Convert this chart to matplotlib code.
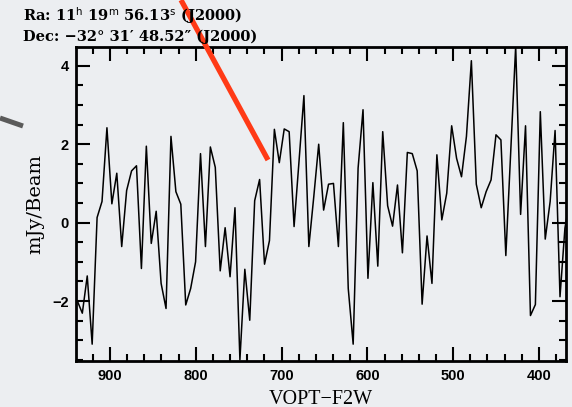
import numpy as np
import matplotlib.pyplot as plt
from matplotlib.lines import Line2D
from matplotlib.ticker import MultipleLocator

# spectrum channels (VOPT-F2W, km/s), regular channel grid
V_START = 938.0
V_STEP = 5.74

# flux per channel in mJy/Beam (high velocity first)
flux = [
    -2.00, -2.31, -1.36, -3.10, 0.13, 0.54, 2.42, 0.48, 1.26, -0.61,
    0.82, 1.32, 1.45, -1.17, 1.95, -0.53, 0.29, -1.55, -2.19, 2.20,
    0.79, 0.47, -2.10, -1.68, -1.00, 1.76, -0.61, 1.93, 1.41, -1.23,
    -0.13, -1.38, 0.38, -3.50, -1.19, -2.49, 0.56, 1.10, -1.06, -0.46,
    2.38, 1.53, 2.39, 2.32, -0.10, 1.56, 3.24, -0.61, 0.66, 2.00,
    0.32, 0.98, 1.00, -0.61, 2.55, -1.68, -3.10, 1.39, 2.88,
    -1.42, 1.02, -1.11, 2.32, 0.43, -0.09, 0.96, -0.77, 1.79, 1.76,
    1.32, -2.08, -0.34, -1.55, 1.73, 0.07, 0.75, 2.47, 1.64, 1.17,
    2.20, 4.13, 0.98, 0.38, 0.79, 1.09, 2.24, 2.11, -0.84, 1.83,
    4.50, 0.21, 2.47, -2.37, -2.09, 2.83, -0.42, 0.54, 2.35, -1.89,
    -0.14, 0.60,
]
velocity = V_START - V_STEP * np.arange(len(flux))

ra_text = r"Ra: 11$^{\mathrm{h}}$ 19$^{\mathrm{m}}$ 56.13$^{\mathrm{s}}$ (J2000)"
dec_text = "Dec: \u221232\u00b0 31\u2032 48.52\u2033 (J2000)"

BG = '#eceef1'
plt.rcParams['mathtext.default'] = 'regular'

fig = plt.figure(figsize=(5.72, 4.07), dpi=100, facecolor=BG)
ax = fig.add_axes([0.1329, 0.113, 0.8566, 0.7715], facecolor=BG)

ax.plot(velocity, flux, color='black', lw=1.1)

ax.set_xlim(939.6, 368.5)
ax.set_ylim(-3.53, 4.48)

ax.xaxis.set_major_locator(MultipleLocator(100))
ax.xaxis.set_minor_locator(MultipleLocator(20))
ax.yaxis.set_major_locator(MultipleLocator(2))
ax.yaxis.set_minor_locator(MultipleLocator(0.5))
ax.tick_params(which='both', direction='in', top=True, right=True, width=1.5, color='black')
ax.tick_params(which='major', length=10)
ax.tick_params(which='minor', length=5)
ax.tick_params(axis='x', pad=6)
ax.tick_params(axis='y', pad=5)
for lab in ax.get_xticklabels() + ax.get_yticklabels():
    lab.set_fontfamily('Liberation Sans')
    lab.set_fontweight('bold')
    lab.set_fontsize(10.5)
for sp in ax.spines.values():
    sp.set_linewidth(2)

ax.set_xlabel('VOPT\u2212F2W', fontfamily='Liberation Serif', fontsize=14.5, labelpad=4.5)
ax.set_ylabel('mJy/Beam', fontfamily='DejaVu Serif', fontsize=14, labelpad=6)

fig.text(23 / 572, 1 - 20.5 / 407, ra_text, fontfamily='DejaVu Serif', fontweight='bold',
         fontsize=10.5, va='baseline', ha='left')
fig.text(23 / 572, 1 - 40.5 / 407, dec_text, fontfamily='DejaVu Serif', fontweight='bold',
         fontsize=10.5, va='baseline', ha='left')

# screenshot marks: red pointer and grey stroke
fig.add_artist(Line2D([181 / 572, 268 / 572], [1.0, 1 - 160 / 407],
                      color='#ff3a16', lw=3.8, solid_capstyle='butt'))
fig.add_artist(Line2D([0.0, 23 / 572], [1 - 118 / 407, 1 - 126 / 407],
                      color='#5a5a5a', lw=3.6, solid_capstyle='butt'))

fig.savefig('out.png', dpi=100, facecolor=fig.get_facecolor())
